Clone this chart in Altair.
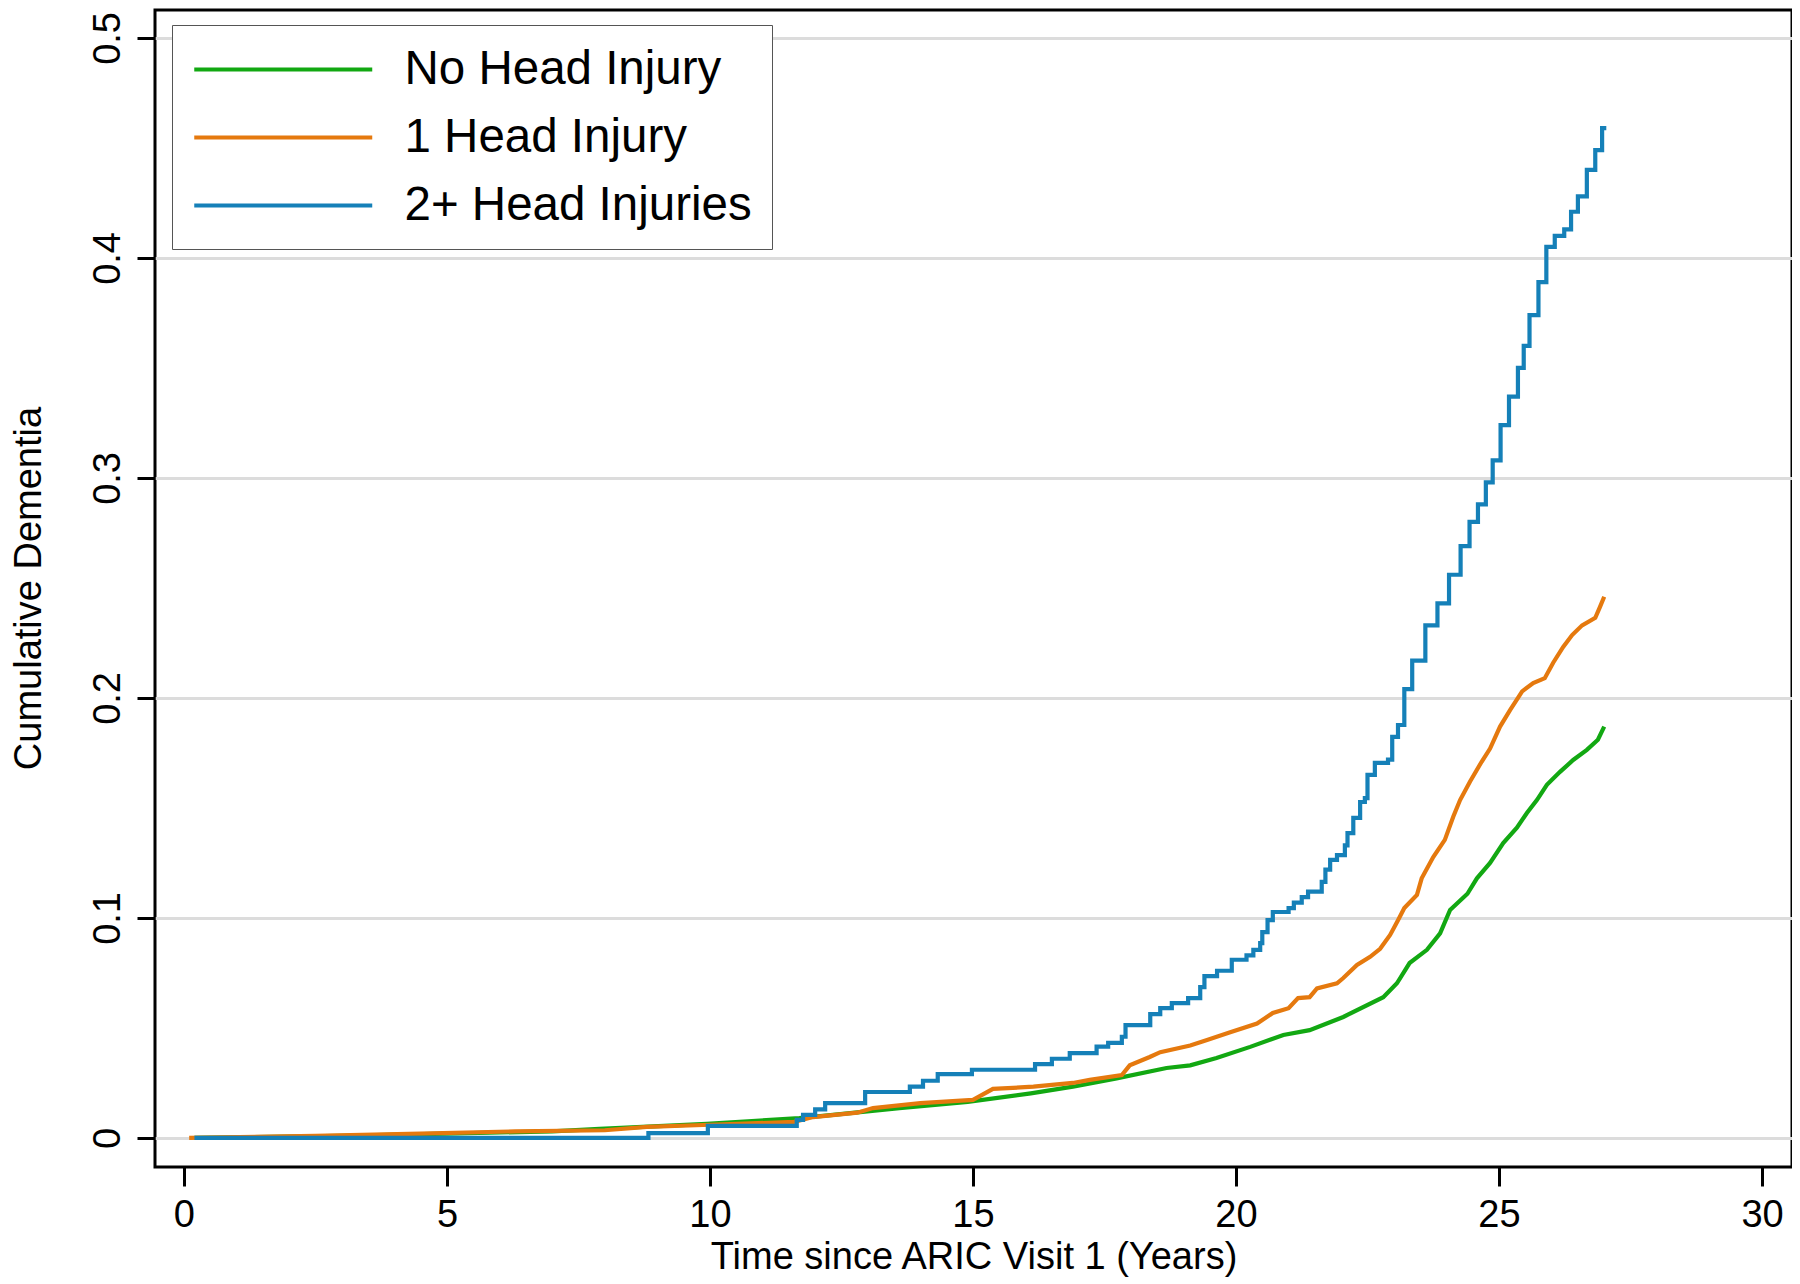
import altair as alt
import pandas as pd

groups = ["No Head Injury", "1 Head Injury", "2+ Head Injuries"]
colors = ["#12a812", "#e5790e", "#1580b8"]

# 2+ Head Injuries (step function)
blue_x = [0.2, 8.83, 9.96, 11.65, 11.77, 12.0, 12.19, 12.95, 13.8, 14.05, 14.33, 14.98,
          16.18, 16.5, 16.84, 17.35, 17.57, 17.83, 17.9, 18.37, 18.56, 18.78, 19.09, 19.32,
          19.4, 19.64, 19.92, 20.2, 20.33, 20.46, 20.5, 20.6, 20.7, 21.0, 21.1, 21.25, 21.37,
          21.63, 21.7, 21.79, 21.92, 22.07, 22.12, 22.23, 22.36, 22.45, 22.5, 22.64, 22.89,
          22.97, 23.08, 23.2, 23.35, 23.6, 23.83, 24.05, 24.27, 24.44, 24.6, 24.75, 24.88,
          25.03, 25.19, 25.36, 25.47, 25.58, 25.75, 25.9, 26.06, 26.24, 26.37, 26.5, 26.67,
          26.83, 26.96, 27.0]
blue_y = [0.0, 0.0022, 0.0055, 0.0082, 0.0105, 0.013, 0.0158, 0.0209, 0.0233, 0.026, 0.029, 0.031,
          0.0336, 0.036, 0.0386, 0.0415, 0.0432, 0.046, 0.0513, 0.0563, 0.059, 0.0613, 0.0636, 0.0686,
          0.0736, 0.076, 0.081, 0.083, 0.0855, 0.0886, 0.0936, 0.099, 0.1027, 0.1045, 0.107, 0.1095, 0.112,
          0.1164, 0.122, 0.1264, 0.1286, 0.133, 0.1386, 0.1455, 0.1527, 0.1545, 0.165, 0.1705, 0.172,
          0.1823, 0.1877, 0.204, 0.217, 0.233, 0.243, 0.256, 0.269, 0.28, 0.288, 0.298, 0.308,
          0.324, 0.337, 0.35, 0.36, 0.374, 0.389, 0.405, 0.41, 0.413, 0.421, 0.428, 0.44,
          0.449, 0.459, 0.46]

# 1 Head Injury
orange_x = [0.1, 2.5, 4.5, 6.3, 8.0, 8.8, 10.0, 11.6, 11.96, 12.8, 13.1, 14.0, 15.0, 15.38,
            16.15, 16.9, 17.22, 17.83, 17.98, 18.36, 18.56, 19.13, 19.45, 19.89, 20.4, 20.7,
            21.0, 21.18, 21.4, 21.54, 21.92, 22.04, 22.3, 22.55, 22.74, 22.93, 23.08, 23.2,
            23.44, 23.53, 23.75, 23.97, 24.13, 24.26, 24.45, 24.67, 24.83, 25.02, 25.21, 25.44,
            25.65, 25.87, 26.03, 26.22, 26.39, 26.58, 26.83, 26.92, 27.0]
orange_y = [0.0, 0.001, 0.002, 0.003, 0.0035, 0.005, 0.006, 0.0073, 0.0095, 0.0115, 0.0136, 0.0158,
            0.0173, 0.0223, 0.0233, 0.025, 0.0264, 0.0286, 0.033, 0.0368, 0.039, 0.042, 0.0445,
            0.048, 0.052, 0.0568, 0.059, 0.0636, 0.064, 0.068, 0.0703, 0.0727, 0.0786, 0.0823,
            0.086, 0.0923, 0.099, 0.1045, 0.1105, 0.118, 0.1277, 0.1355, 0.146, 0.1536, 0.162,
            0.171, 0.177, 0.187, 0.1945, 0.203, 0.2068, 0.209, 0.216, 0.2232, 0.2286, 0.233,
            0.2364, 0.2414, 0.246]

# No Head Injury
green_x = [0.2, 3.0, 5.0, 7.0, 7.9, 9.94, 11.7, 12.34, 13.6, 14.9, 16.1, 16.9, 17.73, 18.68,
           19.13, 19.63, 20.27, 20.9, 21.4, 22.04, 22.8, 23.06, 23.3, 23.63, 23.88, 24.07, 24.4,
           24.58, 24.83, 25.08, 25.34, 25.53, 25.72, 25.91, 26.16, 26.41, 26.67, 26.88, 27.0]
green_y = [0.0, 0.001, 0.002, 0.003, 0.0041, 0.0064, 0.009, 0.0105, 0.0136, 0.0164, 0.0203, 0.0233,
           0.0271, 0.0318, 0.033, 0.0363, 0.0414, 0.0468, 0.049, 0.055, 0.064, 0.0703, 0.0795,
           0.0855, 0.093, 0.1036, 0.111, 0.118, 0.125, 0.134, 0.141, 0.1477, 0.1536, 0.1605,
           0.1664, 0.1718, 0.1764, 0.181, 0.187]

x_ticks = [0, 5, 10, 15, 20, 25, 30]
y_ticks = [0, 0.1, 0.2, 0.3, 0.4, 0.5]

smooth_df = pd.concat([
    pd.DataFrame({"t": green_x, "v": green_y, "g": groups[0]}),
    pd.DataFrame({"t": orange_x, "v": orange_y, "g": groups[1]}),
])
step_df = pd.DataFrame({"t": blue_x, "v": blue_y, "g": groups[2]})

FONT = "Liberation Sans"

x_enc = alt.X("t:Q",
              scale=alt.Scale(domain=[-0.55, 30.57], nice=False, zero=False),
              axis=alt.Axis(values=x_ticks, grid=False, domain=False, tickSize=19, tickWidth=3,
                            tickColor="black", labelFont=FONT, labelFontSize=38, labelColor="black",
                            labelBaseline="alphabetic", labelPadding=40, labelFlush=False,
                            labelOverlap=False, title="Time since ARIC Visit 1 (Years)",
                            titleFont=FONT, titleFontSize=38, titleFontWeight="normal",
                            titleColor="black", titleBaseline="alphabetic", titleY=101))
y_enc = alt.Y("v:Q",
              scale=alt.Scale(domain=[-0.0132, 0.5127], nice=False, zero=False),
              axis=alt.Axis(values=y_ticks, format=".1~f", grid=True, gridColor="#dcdcdc",
                            gridWidth=3, domain=False, tickSize=18, tickWidth=3, tickColor="black",
                            labelFont=FONT, labelFontSize=38, labelColor="black", labelAngle=270,
                            labelAlign="center", labelBaseline="alphabetic", labelPadding=18,
                            labelFlush=False, labelOverlap=False,
                            title="Cumulative Dementia", titleFont=FONT, titleFontSize=38,
                            titleFontWeight="normal", titleColor="black", titleAngle=270,
                            titleAlign="center", titleBaseline="alphabetic", titleX=-115, titleY=578))
color_enc = alt.Color("g:N",
                      scale=alt.Scale(domain=groups, range=colors),
                      legend=alt.Legend(orient="none", legendX=17, legendY=15, title=None,
                                        symbolType="M-1,0L7,0", symbolSize=1980, symbolStrokeWidth=4,
                                        symbolFillColor="transparent",
                                        labelFont=FONT, labelFontSize=47.5, labelColor="black",
                                        labelOffset=163.5, labelLimit=1000, padding=20, rowPadding=20,
                                        strokeColor="#555555", fillColor="white"))

smooth = alt.Chart(smooth_df).mark_line(strokeWidth=4.2).encode(
    x=x_enc, y=y_enc, color=color_enc, order=alt.Order("t:Q"))
step = alt.Chart(step_df).mark_line(strokeWidth=4.2, interpolate="step-after").encode(
    x=x_enc, y=y_enc, color=color_enc, order=alt.Order("t:Q"))

chart = alt.layer(smooth, step).properties(
    width=1637, height=1157, autosize="none",
    padding={"left": 147, "top": 2, "right": 0, "bottom": 117},
    background="white",
).configure_view(stroke="black", strokeWidth=3)

chart.save("out.html", embed_options={"renderer": "svg", "actions": False})
